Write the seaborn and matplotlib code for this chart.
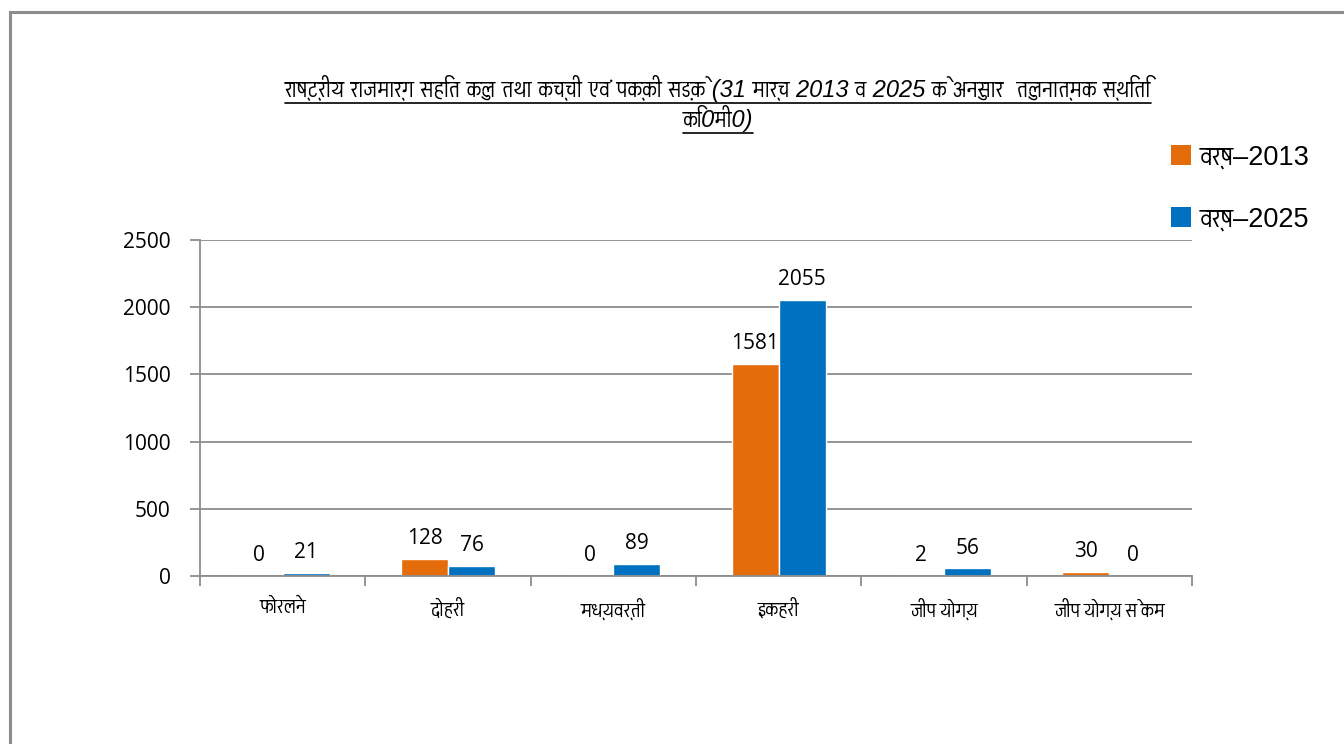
import matplotlib
matplotlib.use("Agg")
import matplotlib.pyplot as plt
from matplotlib import font_manager
from matplotlib.ft2font import FT2Font
from matplotlib.patches import Patch, Rectangle
from matplotlib.lines import Line2D
import seaborn as sns
import pandas as pd

# ---- data -------------------------------------------------------------
categories = ["फोरलेन", "दोहरी", "मध्यवर्ती", "इकहरी", "जीप योग्य", "जीप योग्य से कम"]
years = ["वर्ष–2013", "वर्ष–2025"]
values_2013 = [0, 128, 0, 1581, 2, 30]
values_2025 = [21, 76, 89, 2055, 56, 0]
y_ticks = [0, 500, 1000, 1500, 2000, 2500]
title_lines = [
    "राष्ट्रीय राजमार्ग सहित कुल तथा कच्ची एवं पक्की सड़के (31 मार्च 2013 व 2025 के अनुसार  तुलनात्मक स्थिति",
    "कि0मी0)",
]

ORANGE = "#E46C0A"
BLUE = "#0070C0"
GREY = "#8C8C8C"

# ---- fonts: pick a family that covers Devanagari ----------------------
def devanagari_families():
    found = []
    seen = set()
    for f in font_manager.fontManager.ttflist:
        if f.name in seen:
            continue
        seen.add(f.name)
        try:
            cmap = FT2Font(f.fname).get_charmap()
        except Exception:
            continue
        if all(ord(c) in cmap for c in "कर्षीो"):
            found.append(f.name)

    def rank(name):
        n = name.lower()
        return (("mono" in n) * 2 + ("serif" in n), n)

    return sorted(found, key=rank)

sns.set_theme(style="white")
dev = devanagari_families()[:1]
base = dev + ["Open Sans", "DejaVu Sans"]
latin_first = ["Liberation Sans"] + dev + ["DejaVu Sans"]
narrow_first = ["Liberation Sans Narrow", "Liberation Sans"] + dev + ["DejaVu Sans"]
num_font = ["Open Sans", "DejaVu Sans"]
plt.rcParams["font.family"] = base
plt.rcParams["axes.unicode_minus"] = False
plt.rcParams["text.color"] = "black"
plt.rcParams["xtick.color"] = "black"
plt.rcParams["ytick.color"] = "black"

# ---- dataframe --------------------------------------------------------
df = pd.DataFrame({
    "श्रेणी": categories * 2,
    "वर्ष": [years[0]] * len(categories) + [years[1]] * len(categories),
    "मान": values_2013 + values_2025,
})

W, H = 1344, 744
fig = plt.figure(figsize=(W / 100, H / 100), dpi=100)
ax = fig.add_axes([200 / W, 1 - 576 / H, (1192 - 200) / W, (576 - 240) / H])

sns.barplot(
    data=df, x="श्रेणी", y="मान", hue="वर्ष", order=categories, hue_order=years,
    palette=[ORANGE, BLUE], width=0.57, saturation=1, ax=ax, legend=False,
    errorbar=None,
)

for cont in ax.containers:
    ax.bar_label(cont, fmt="%d", padding=7, fontsize=15, color="black",
                 family=num_font)

# ---- axes styling -----------------------------------------------------
ax.set_ylim(0, 2500)
ax.set_xlim(-0.5, len(categories) - 0.5)
ax.set_yticks(y_ticks)
ax.set_yticklabels([str(v) for v in y_ticks], fontsize=15, family=num_font,
                   color="black")
ax.yaxis.grid(True, color=GREY, linewidth=1.3)
ax.set_axisbelow(True)
ax.set_xlabel("")
ax.set_ylabel("")
for side in ["top", "right"]:
    ax.spines[side].set_visible(False)
for side in ["left", "bottom"]:
    ax.spines[side].set_color(GREY)
    ax.spines[side].set_linewidth(1.3)

ax.tick_params(axis="y", which="major", length=7, width=1.3, color=GREY,
               direction="out", left=True, pad=14)
ax.tick_params(axis="x", which="major", length=0, labelsize=15, pad=16,
               labelcolor="black")
ax.set_xticks([i - 0.5 for i in range(len(categories) + 1)], minor=True)
ax.tick_params(axis="x", which="minor", length=7, width=1.3, color=GREY,
               direction="out", bottom=True)

# ---- legend -----------------------------------------------------------
handles = [Patch(facecolor=ORANGE, edgecolor="none"),
           Patch(facecolor=BLUE, edgecolor="none")]
fig.legend(handles, years, loc="upper left",
           bbox_to_anchor=(1160 / W, 1 - 134 / H), frameon=False,
           handlelength=0.75, handleheight=0.75, handletextpad=0.3,
           labelspacing=1.3, borderaxespad=0,
           prop={"family": latin_first, "size": 19.5})

# ---- title (italic, underlined) ---------------------------------------
title_y = [1 - 88 / H, 1 - 119 / H]
title_texts = []
for line, yy in zip(title_lines, title_y):
    t = fig.text(718 / W, yy, line, ha="center", va="center", fontsize=17,
                 style="italic", color="black", family=narrow_first)
    title_texts.append(t)

fig.canvas.draw()
renderer = fig.canvas.get_renderer()
for t in title_texts:
    bb = t.get_window_extent(renderer).transformed(fig.transFigure.inverted())
    uy = bb.y0 - 1.0 / H
    fig.add_artist(Line2D([bb.x0, bb.x1], [uy, uy], transform=fig.transFigure,
                          color="black", linewidth=1.2))

# ---- outer frame ------------------------------------------------------
fig.add_artist(Rectangle((10 / W, -0.1), 1.2, 1 - 12 / H + 0.1,
                         transform=fig.transFigure, fill=False,
                         edgecolor=GREY, linewidth=2.2, clip_on=False))

fig.savefig("out.png", dpi=100)
